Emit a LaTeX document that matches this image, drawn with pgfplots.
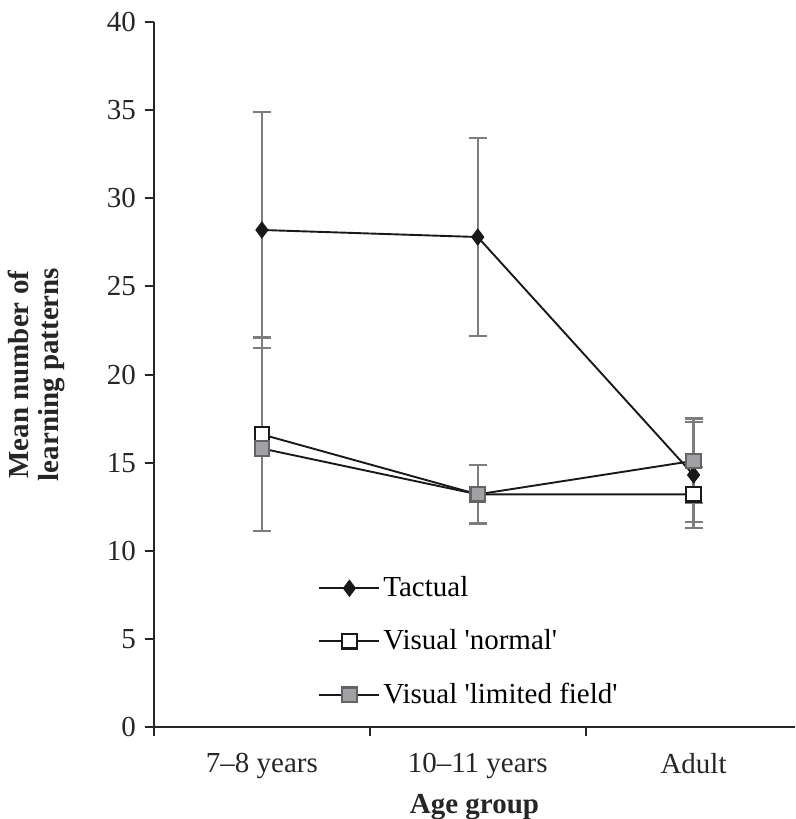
\documentclass[border=0pt]{standalone}
\usepackage{pgfplots}
\pgfplotsset{compat=1.18}
\usepackage{fontspec}
\setmainfont{Liberation Serif}
\definecolor{errgray}{RGB}{125,125,125}
\definecolor{markgray}{RGB}{160,160,165}
\definecolor{edgegray}{RGB}{100,100,100}
\begin{document}
\begin{tikzpicture}
\begin{axis}[
    scale only axis,
    width=320.5pt, height=352.5pt,
    xmin=0, xmax=2.97,
    ymin=0, ymax=40,
    axis lines=left,
    axis line style={-, line width=1.1pt, black!85},
    tick align=outside,
    major tick length=4.5pt,
    minor tick length=4.5pt,
    tick style={line width=1pt, black!85},
    ytick={0,5,...,40},
    xtick={0.5,1.5,2.5},
    xticklabels={7--8 years,10--11 years,Adult},
    major x tick style={draw=none},
    minor xtick={0,1,2},
    /pgf/number format/assume math mode=true,
    tick label style={font=\fontsize{14.5}{16}\selectfont, text=black!85},
    xticklabel style={yshift=-5pt},
    yticklabel style={xshift=-1pt},
    xlabel={\textbf{Age group}},
    ylabel={\textbf{Mean number of}\\\textbf{learning patterns}},
    ylabel style={align=center, font=\fontsize{14.5}{15}\selectfont, yshift=14pt},
    xlabel style={font=\fontsize{14.5}{16}\selectfont, yshift=-1pt},
    label style={text=black!85},
    legend style={draw=none, fill=none, at={(0.256,0.218)}, anchor=north west,
        font=\fontsize{14.5}{16}\selectfont, row sep=12pt, inner sep=0pt,
        nodes={inner sep=1.5pt}},
    legend cell align=left,
    legend image code/.code={\draw[mark repeat=2,mark phase=2,#1] plot coordinates {(0pt,0pt) (15pt,0pt) (30pt,0pt)};},
    error bars/y dir=both,
    error bars/y explicit,
    error bars/error bar style={errgray, line width=1.2pt},
    error bars/error mark options={rotate=90, mark size=4.5pt, errgray, line width=1.1pt},
    clip=false,
]
% Tactual
\addplot[black!90, line width=0.95pt, mark=diamond*, mark size=4pt,
    mark options={fill=black!90, draw=black!90, line width=0.5pt}]
  coordinates {
    (0.5,28.2) +- (0,6.7)
    (1.5,27.8) +- (0,5.6)
    (2.5,14.3) +- (0,3.0)
  };
\addlegendentry{Tactual}
% Visual 'normal'
\addplot[black!90, line width=0.95pt, mark=square*, mark size=3.6pt,
    mark options={fill=white, draw=black!90, line width=1.1pt}]
  coordinates {
    (0.5,16.6) +- (0,5.5)
    (1.5,13.2) +- (0,1.65)
    (2.5,13.2) +- (0,1.55)
  };
\addlegendentry{Visual \textquotesingle normal\textquotesingle}
% Visual 'limited field'
\addplot[black!90, line width=0.95pt, mark=square*, mark size=3.6pt,
    mark options={fill=markgray, draw=edgegray, line width=1.1pt}]
  coordinates {
    (0.5,15.8) += (0,6.3) -= (0,4.7)
    (1.5,13.2) +- (0,1.65)
    (2.5,15.1) +- (0,2.4)
  };
\addlegendentry{Visual \textquotesingle limited field\textquotesingle}
\coordinate (SW) at (rel axis cs:0,0);
\coordinate (NE) at (rel axis cs:1,1);
\end{axis}
\pgfresetboundingbox
\path ([xshift=-77pt,yshift=-46pt]SW) rectangle ([yshift=11pt]NE);
\end{tikzpicture}
\end{document}
